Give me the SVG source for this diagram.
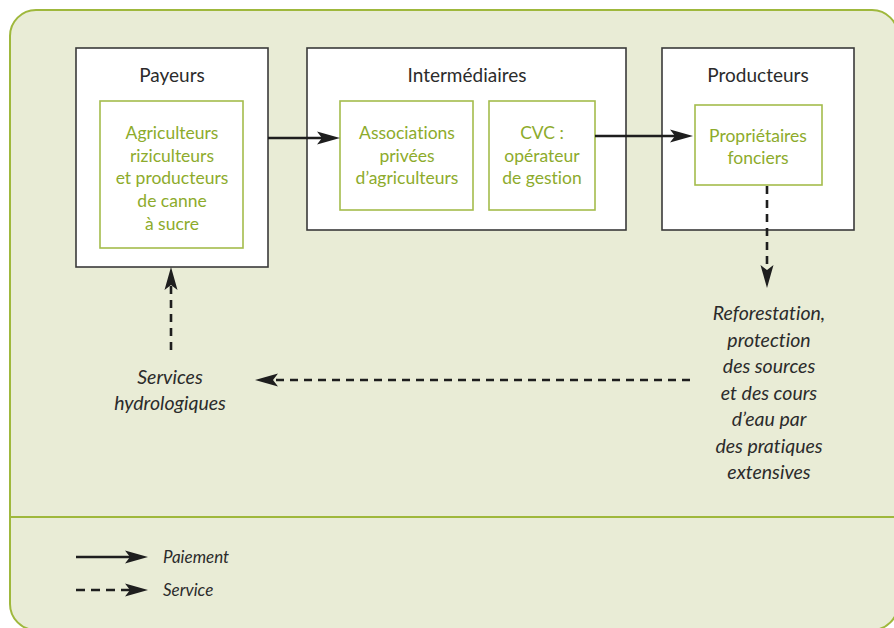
<svg xmlns="http://www.w3.org/2000/svg" width="894" height="628" viewBox="0 0 894 628">
<defs>
<style>
text{font-variant-ligatures:none;font-feature-settings:"liga" 0,"dlig" 0}
.bg{fill:#e9ecd6;stroke:#9fb83c;stroke-width:2}
.div{stroke:#9fb83c;stroke-width:1.8;fill:none}
.outer{fill:#ffffff;stroke:#3a3a3a;stroke-width:1.6}
.inner{fill:#ffffff;stroke:#a4bc4c;stroke-width:1.6}
.title{font-family:Lato,"Open Sans",sans-serif;font-size:19px;fill:#2b2b2b;text-anchor:middle}
.green{font-family:Lato,"Open Sans",sans-serif;font-size:17.5px;fill:#8dab2c;text-anchor:middle}
.ital{font-family:Lato,"Open Sans",sans-serif;font-style:italic;font-size:19.5px;fill:#2b2b2b;text-anchor:middle}
.leg{font-family:Lato,"Open Sans",sans-serif;font-style:italic;font-size:17px;fill:#2b2b2b}
.solid{stroke:#1e1e1e;stroke-width:2.6;fill:none}
.dash{stroke:#1e1e1e;stroke-width:2.6;fill:none;stroke-dasharray:8 6}
</style>
<marker id="ah" markerUnits="userSpaceOnUse" markerWidth="25" markerHeight="15" refX="14" refY="7.5" orient="auto" viewBox="0 0 25 15">
<path d="M0,1 L23,7.5 L0,14 L5,7.5 Z" fill="#1e1e1e" stroke="none"/>
</marker>
</defs>
<rect class="bg" x="10" y="10" width="888" height="620" rx="26" ry="26"/>
<line class="div" x1="10" y1="517" x2="894" y2="517"/>

<g id="payeurs">
<rect class="outer" x="76" y="48" width="192" height="219"/>
<text class="title" x="172" y="82">Payeurs</text>
<g id="agriculteurs">
<rect class="inner" x="100" y="101" width="143" height="147"/>
<text class="green" x="172" y="139">Agriculteurs</text>
<text class="green" x="172" y="162">riziculteurs</text>
<text class="green" x="172" y="184">et producteurs</text>
<text class="green" x="172" y="207">de  canne</text>
<text class="green" x="172" y="230">à sucre</text>
</g>
</g>

<g id="intermediaires">
<rect class="outer" x="307" y="48" width="319" height="182"/>
<text class="title" x="467" y="82">Intermédiaires</text>
<g id="associations">
<rect class="inner" x="340" y="101" width="133" height="109"/>
<text class="green" x="407" y="139">Associations</text>
<text class="green" x="407" y="162">privées</text>
<text class="green" x="407" y="184">d’agriculteurs</text>
</g>
<g id="cvc">
<rect class="inner" x="489" y="101" width="106" height="109"/>
<text class="green" x="542" y="139">CVC :</text>
<text class="green" x="542" y="162">opérateur</text>
<text class="green" x="542" y="184">de gestion</text>
</g>
</g>

<g id="producteurs">
<rect class="outer" x="662" y="48" width="192" height="182"/>
<text class="title" x="758" y="82">Producteurs</text>
<g id="proprietaires">
<rect class="inner" x="695" y="105" width="127" height="80"/>
<text class="green" x="758" y="142">Propriétaires</text>
<text class="green" x="758" y="164">fonciers</text>
</g>
</g>

<g id="reforestation">
<text class="ital" x="769" y="320">Reforestation,</text>
<text class="ital" x="769" y="347">protection</text>
<text class="ital" x="769" y="373">des sources</text>
<text class="ital" x="769" y="400">et des cours</text>
<text class="ital" x="769" y="426">d’eau par</text>
<text class="ital" x="769" y="453">des pratiques</text>
<text class="ital" x="769" y="479">extensives</text>
</g>

<g id="services">
<text class="ital" x="170" y="384">Services</text>
<text class="ital" x="170" y="410">hydrologiques</text>
</g>

<g id="connectors">
<line class="solid" x1="268" y1="138" x2="331" y2="138" marker-end="url(#ah)"/>
<line class="solid" x1="595" y1="136" x2="684" y2="136" marker-end="url(#ah)"/>
<line class="dash" x1="767" y1="186" x2="767" y2="279" marker-end="url(#ah)"/>
<line class="dash" x1="690" y1="380" x2="264" y2="380" marker-end="url(#ah)"/>
<line class="dash" x1="171" y1="350" x2="171" y2="276" marker-end="url(#ah)"/>
</g>

<g id="legend">
<line class="solid" x1="76" y1="557" x2="139" y2="557" marker-end="url(#ah)"/>
<text class="leg" x="163" y="563">Paiement</text>
<line class="dash" x1="76" y1="590" x2="139" y2="590" marker-end="url(#ah)" style="stroke-dasharray:9 6"/>
<text class="leg" x="163" y="596">Service</text>
</g>
</svg>
